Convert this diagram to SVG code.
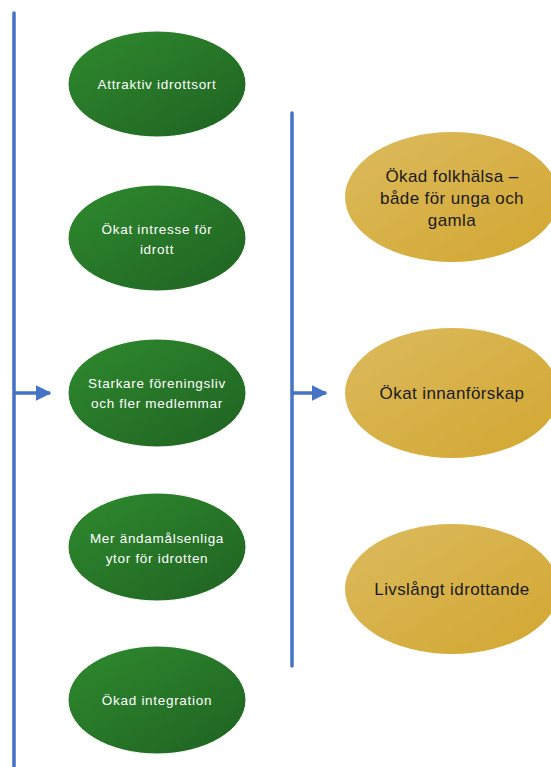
<svg xmlns="http://www.w3.org/2000/svg" width="551" height="767" viewBox="0 0 551 767">
<defs>
<linearGradient id="gGreen" x1="0" y1="0" x2="1" y2="1">
<stop offset="0" stop-color="#2f8a2e"/>
<stop offset="1" stop-color="#1f6222"/>
</linearGradient>
<linearGradient id="gGold" x1="0" y1="0" x2="1" y2="1">
<stop offset="0" stop-color="#dcbb5e"/>
<stop offset="1" stop-color="#d2a630"/>
</linearGradient>
<marker id="arr" viewBox="0 0 10 10" refX="9" refY="5" markerWidth="4.5" markerHeight="4.5" orient="auto" markerUnits="strokeWidth">
<path d="M0,0 L10,5 L0,10 Z" fill="#4472c4"/>
</marker>
<style>
.ln{stroke:#4472c4;stroke-width:3.5;fill:none;stroke-linecap:round}
.gr{fill:url(#gGreen);stroke:#ffffff;stroke-width:1}
.go{fill:url(#gGold)}
.wt{font-family:"Liberation Sans",Arial,sans-serif;font-size:13.5px;letter-spacing:0.7px;fill:#ffffff;text-anchor:middle}
.bt{font-family:"Liberation Sans",Arial,sans-serif;font-size:17px;letter-spacing:0.4px;fill:#1a1a1a;text-anchor:middle}
</style>
</defs>
<g id="connectors">
<line class="ln" x1="14" y1="13" x2="14" y2="770"/>
<line class="ln" x1="14" y1="393" x2="50" y2="393" marker-end="url(#arr)" style="stroke-linecap:butt"/>
<line class="ln" x1="292" y1="113" x2="292" y2="666"/>
<line class="ln" x1="292" y1="393" x2="326" y2="393" marker-end="url(#arr)" style="stroke-linecap:butt"/>
</g>
<g id="n1"><ellipse class="gr" cx="157" cy="84" rx="89" ry="53"/><text class="wt" x="157" y="89">Attraktiv idrottsort</text></g>
<g id="n2"><ellipse class="gr" cx="157" cy="238" rx="89" ry="53"/><text class="wt" x="157" y="234">Ökat intresse för</text><text class="wt" x="157" y="254">idrott</text></g>
<g id="n3"><ellipse class="gr" cx="157" cy="393" rx="89" ry="54"/><text class="wt" x="157" y="388">Starkare föreningsliv</text><text class="wt" x="157" y="408">och fler  medlemmar</text></g>
<g id="n4"><ellipse class="gr" cx="157" cy="547" rx="89" ry="54"/><text class="wt" x="157" y="543">Mer ändamålsenliga</text><text class="wt" x="157" y="563">ytor för idrotten</text></g>
<g id="n5"><ellipse class="gr" cx="157" cy="700" rx="89" ry="54"/><text class="wt" x="157" y="705">Ökad integration</text></g>
<g id="m1"><ellipse class="go" cx="452" cy="197" rx="107" ry="65"/><text class="bt" x="452" y="182">Ökad folkhälsa –</text><text class="bt" x="452" y="204">både för unga och</text><text class="bt" x="452" y="226">gamla</text></g>
<g id="m2"><ellipse class="go" cx="452" cy="393" rx="107" ry="65"/><text class="bt" x="452" y="399">Ökat innanförskap</text></g>
<g id="m3"><ellipse class="go" cx="452" cy="589" rx="107" ry="65"/><text class="bt" x="452" y="595">Livslångt idrottande</text></g>
</svg>
